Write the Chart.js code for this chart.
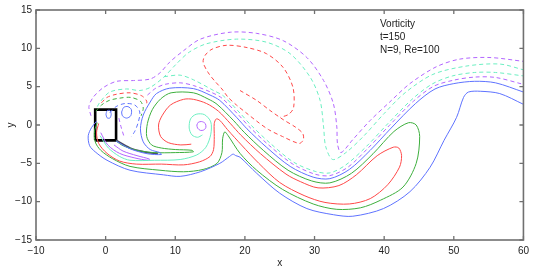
<!DOCTYPE html>
<html><head><meta charset="utf-8">
<script src="https://cdn.jsdelivr.net/npm/chart.js@4"></script>
<style>html,body{margin:0;padding:0;background:#fff}canvas{display:block}</style>
</head><body>
<canvas id="c" width="534" height="268" style="width:534px;height:268px"></canvas>
<script>
// ---- tick labels / text ----
const xTicks = [-10, 0, 10, 20, 30, 40, 50, 60];
const yTicks = [-15, -10, -5, 0, 5, 10, 15];
const notes = ["Vorticity", "t=150", "N=9, Re=100"];
const noteX = 39.4;
const noteY = [13.2, 11.45, 9.8];

// ---- contour lines, [x, y] pairs ----
// positive vorticity (solid)
const blueOuter = [[-1.3,0.5],[-2.0,-0.3],[-2.5,-1.4],[-2.3,-2.7],[-1.5,-3.5],[0.2,-4.6],[3.5,-5.9],[8.3,-6.5],[10.7,-6.7],[13.6,-6.1],[16.4,-5.0],[17.8,-4.1],[18.3,-3.8],[18.7,-4.0],[19.3,-4.2],[21.7,-6.3],[25.0,-8.9],[28.9,-10.9],[32.7,-11.7],[35.5,-11.9],[39.9,-10.9],[43.7,-8.7],[46.6,-5.5],[48.6,-2.0],[50.4,1.0],[51.4,3.6],[52.1,4.3],[53.8,4.4],[56.6,4.1],[60,2.7]];
const blueUpper = [[1.5,-2.1],[3.5,-3.1],[6,-3.75],[8.0,-3.85],[7.8,-3.6],[6.4,-3.2],[5.4,-2.2],[5.0,-0.5],[5.4,1.3],[6.4,3.0],[7.3,4.1],[9.2,4.8],[12.6,4.75],[15,3.9],[16.4,3.2],[18.8,1.0],[20.3,-0.5],[23.1,-2.9],[26.5,-5.4],[29.8,-6.8],[32.2,-7.0],[35,-5.8],[38,-3.3],[41,-0.4],[44.5,2.8],[47.3,4.7],[50,5.4],[53,5.7],[56,5.5],[60,4.3]];
const greenSolid = [[-1.2,0.3],[-1.6,-0.8],[-1.5,-2.2],[-0.7,-3.3],[1,-4.4],[3.5,-5.4],[7.8,-5.9],[11.2,-6.1],[14.0,-5.8],[16.0,-5.0],[16.7,-3.6],[16.8,-1.8],[17.1,-0.9],[17.6,-1.4],[19.3,-3.7],[21.7,-5.9],[25.4,-8.4],[29.8,-10.3],[33.2,-11.0],[36.6,-10.8],[39.5,-9.8],[42.7,-8.1],[44.6,-5.0],[45.1,-1.5],[44.6,0.0],[43.5,0.3],[41.4,-0.85],[38.4,-3.75],[35.3,-6.3],[32.2,-7.55],[29.6,-7.3],[26.2,-5.9],[22.7,-3.35],[19.9,-0.95],[18.4,0.55],[16.0,2.7],[14.7,3.4],[12.6,4.2],[9.4,4.2],[7.9,3.4],[6.7,2.0],[6.0,0.2],[5.9,-1.5],[6.6,-2.6],[8,-3.0],[10,-3.2],[12.4,-3.3],[12.6,-3.5],[10,-3.6],[7,-3.6],[4.5,-3.3],[2.5,-2.7],[1.5,-2.1]];
const redSolid = [[-1.0,0.2],[-1.3,-1.0],[-1.0,-2.4],[0.2,-3.7],[2,-4.7],[4.4,-5.1],[8,-5.1],[11.2,-5.2],[13.5,-4.8],[15.0,-4.1],[15.5,-3.2],[15.6,-1.5],[15.6,0.2],[15.9,0.8],[16.4,0.6],[17.5,-0.6],[19.5,-2.6],[22,-5.0],[25,-7.5],[28.5,-9.2],[31.5,-10.1],[35,-10.3],[38,-9.6],[40.5,-7.8],[42.2,-5.5],[42.5,-4.0],[42.1,-3.0],[41.3,-2.9],[39.0,-4.0],[36,-6.5],[33.5,-7.9],[30.5,-8.2],[28,-7.4],[25.9,-6.4],[22.25,-3.75],[19.45,-1.35],[17.95,0.15],[16.2,1.8],[14.5,2.8],[12.6,3.35],[11.2,3.35],[9.3,2.6],[8.1,1.2],[7.6,0],[7.9,-1.5],[9.0,-2.3],[10.8,-2.6],[12.3,-2.5]];
const cyanSolid = [[-0.8,-1.4],[0.4,-3.0],[2,-4.1],[3.5,-4.6],[7,-4.6],[10.7,-4.5],[13.1,-3.9],[14.4,-2.9],[15.1,-1.2],[15.1,0.4],[14.2,1.35],[13,1.4],[12.2,0.8],[12.0,-0.4],[12.4,-1.3],[13.2,-1.6],[13.9,-1.3]];
const purpleSolid = [[-0.7,-1.0],[0.3,-2.6],[2.0,-3.7],[4.2,-4.3],[6.1,-4.6],[6.3,-4.45],[4.5,-4.0],[2.5,-3.4],[1.2,-2.6]];
const purpleOval = [[13.1,0.0],[13.3,0.35],[13.8,0.45],[14.3,0.2],[14.4,-0.3],[14.1,-0.65],[13.6,-0.7],[13.2,-0.4],[13.1,0.0]];
const blueLoopA = [[2.3,1.7],[2.6,2.3],[3.2,2.4],[3.7,2.0],[3.6,1.2],[3.0,0.9],[2.4,1.2],[2.3,1.7]];
const blueLoopB = [[0.05,1.4],[0.2,1.85],[0.6,1.9],[0.8,1.4],[0.6,0.9],[0.2,0.95],[0.05,1.4]];
const tailBundle = [[1.5,-2.0],[3.5,-3.0],[5.5,-3.5],[7.5,-3.75]];
// negative vorticity (dashed)
const purpleDashOuter = [[-2.1,1.2],[-2.4,2.4],[-1.8,3.6],[-0.3,4.9],[1.6,5.7],[4.0,5.8],[6.4,6.0],[7.8,6.8],[9.2,8.2],[11.2,9.7],[13.6,11.2],[17.9,12.1],[21.7,11.95],[25.5,11.0],[28.9,8.8],[31.3,5.8],[32.7,2.8],[33.2,-0.25],[33.3,-2.5],[33.8,-3.6],[35.5,-1.9],[38,0.6],[40.8,3.0],[43.7,5.4],[47.5,7.6],[50.9,8.6],[55.2,8.8],[60,8.3]];
const purpleDashInner = [[6.0,3.9],[7.2,4.8],[8.5,5.3],[10.7,5.5],[12.6,5.15],[15.2,4.25],[16.7,3.5],[19.1,1.3],[20.6,-0.2],[23.4,-2.6],[26.8,-5.05],[30.0,-6.4],[32.2,-6.6],[34.8,-5.5],[37.7,-3.0],[40.7,-0.1],[44.2,3.1],[47.1,5.05],[50,5.85],[53,6.25],[56,6.2],[60,5.3]];
const cyanDashOuter = [[-1.2,2.4],[-0.8,3.0],[0.6,4.3],[3.0,4.7],[4.9,4.5],[6.4,4.9],[8.3,6.2],[10.2,8.0],[12,9.5],[14.5,10.6],[18.8,11.2],[23.1,10.8],[26.5,9.3],[29.4,6.2],[30.8,3.2],[31.3,-0.25],[31.6,-2.8],[32.6,-4.5],[34.5,-3.6],[37,-1.5],[40,1.5],[43,4.2],[47,6.6],[51.9,7.7],[56.6,7.95],[60,7.2]];
const cyanDashInner = [[8.4,6.3],[10.7,6.5],[12.6,5.9],[15.5,4.5],[16.9,3.8],[19.3,1.55],[20.8,0.05],[23.6,-2.35],[27.0,-4.85],[30.1,-6.05],[32.2,-6.25],[34.5,-5.2],[37.5,-2.75],[40.5,0.15],[44.0,3.35],[46.9,5.35],[49.8,6.4],[53,6.85],[56,6.85],[60,6.4]];
const redDash = [[19.3,4.5],[21.7,3.2],[23.6,1.9],[25.5,0.7],[27.3,-0.3],[28.3,-1.1],[28.4,-1.9],[27.8,-2.4],[25.4,-1.5],[23.4,-0.6],[21.7,0.5],[20.3,1.5],[18.8,2.6],[17.6,3.6],[16.7,4.7],[15.7,5.7],[14.75,6.8],[14.0,8.2],[14.3,9.1],[15.3,9.9],[17.4,10.4],[20.3,10.1],[23.1,9.3],[25.5,7.5],[26.9,4.9],[27.0,2.3],[26.3,1.4],[25.1,1.0]];
const redDashSmall = [[-0.6,2.9],[0.2,3.6],[1.5,4.0],[3.5,4.2],[5.2,3.8],[5.9,3.1],[5.8,2.5]];
const greenDashSmall = [[-1.4,1.8],[-0.6,2.6],[0.5,3.2],[2,3.5],[3.6,3.6],[5.0,3.1],[5.4,2.2],[5.1,1.2]];
const blueDashSmall = [[0.6,1.6],[1.5,2.4],[2.8,2.8],[4.2,2.6],[4.9,1.7],[4.7,0.4],[4.2,-0.8],[3.7,-1.5]];
const purpleDashSmall = [[1.9,0.9],[2.2,-0.2],[2.6,-1.4]];
// cylinder box
const cylinderBox = [[-1.5,-2],[-1.5,2],[1.5,2],[1.5,-2],[-1.5,-2]];

// ---- styles ----
const COL = {blue:'#5f73ff', green:'#3daf3d', red:'#ff4848', cyan:'#6cefc2', purple:'#b266ff', tail:'#4b4d62', black:'#000000'};
const layers = [
  {d:blueOuter, c:'blue'}, {d:blueUpper, c:'blue'}, {d:greenSolid, c:'green'},
  {d:redSolid, c:'red'}, {d:cyanSolid, c:'cyan'}, {d:purpleSolid, c:'purple'},
  {d:purpleOval, c:'purple'}, {d:blueLoopA, c:'blue'}, {d:blueLoopB, c:'blue'},
  {d:purpleDashOuter, c:'purple', dash:true}, {d:purpleDashInner, c:'purple', dash:true},
  {d:cyanDashOuter, c:'cyan', dash:true}, {d:cyanDashInner, c:'cyan', dash:true},
  {d:redDash, c:'red', dash:true}, {d:redDashSmall, c:'red', dash:true},
  {d:greenDashSmall, c:'green', dash:true}, {d:blueDashSmall, c:'blue', dash:true},
  {d:purpleDashSmall, c:'purple', dash:true},
  {d:tailBundle, c:'tail', w:1.8},
  {d:cylinderBox, c:'black', w:2.6, t:0}
];

const datasets = layers.map(L => ({
  data: L.d.map(p => ({x:p[0], y:p[1]})),
  borderColor: COL[L.c],
  borderWidth: L.w || 1,
  borderDash: L.dash ? [4,3] : [],
  pointRadius: 0,
  tension: (L.t === undefined) ? 0.3 : L.t,
  fill: false
}));

const FONT = '"Liberation Sans", Arial, Helvetica, sans-serif';
const minus = v => String(v).replace('-', '\u2212');

const frame = {
  id: 'frame',
  afterDraw(ch) {
    const {ctx, chartArea:a, scales:{x, y}} = ch;
    ctx.save();
    ctx.strokeStyle = '#707070';
    ctx.lineWidth = 1.3;
    ctx.beginPath();
    xTicks.forEach(v => { const p = x.getPixelForValue(v);
      ctx.moveTo(p, a.bottom); ctx.lineTo(p, a.bottom - 4);
      ctx.moveTo(p, a.top); ctx.lineTo(p, a.top + 4); });
    yTicks.forEach(v => { const p = y.getPixelForValue(v);
      ctx.moveTo(a.left, p); ctx.lineTo(a.left + 4, p);
      ctx.moveTo(a.right, p); ctx.lineTo(a.right - 4, p); });
    ctx.stroke();
    ctx.lineWidth = 1.6;
    ctx.strokeRect(a.left, a.top, a.right - a.left, a.bottom - a.top);
    ctx.fillStyle = '#222';
    ctx.font = '10px ' + FONT;
    ctx.textBaseline = 'middle';
    ctx.textAlign = 'left';
    notes.forEach((t, i) => ctx.fillText(t, x.getPixelForValue(noteX), y.getPixelForValue(noteY[i])));
    ctx.textAlign = 'center';
    ctx.fillText('x', x.getPixelForValue(25), 263);
    ctx.translate(11, y.getPixelForValue(0));
    ctx.rotate(-Math.PI / 2);
    ctx.fillText('y', 0, 0);
    ctx.restore();
  }
};

new Chart(document.getElementById('c'), {
  type: 'line',
  data: { datasets },
  options: {
    responsive: false, animation: false, devicePixelRatio: 1,
    layout: { padding: { top: 9, right: 10.5, left: 0, bottom: 0 } },
    plugins: { legend: {display:false}, tooltip: {enabled:false} },
    elements: { line: { capBezierPoints: true } },
    scales: {
      x: { type:'linear', min:-10, max:60,
        afterBuildTicks: s => { s.ticks = xTicks.map(v => ({value:v})); },
        afterFit: s => { s.height = 28; },
        grid: { display:false, drawTicks:false }, border: { display:false },
        ticks: { padding:5, color:'#222', font:{size:10, family:FONT}, maxRotation:0, callback: minus } },
      y: { type:'linear', min:-15, max:15,
        afterBuildTicks: s => { s.ticks = yTicks.map(v => ({value:v})); },
        afterFit: s => { s.width = 36; },
        grid: { display:false, drawTicks:false }, border: { display:false },
        ticks: { padding:4, color:'#222', font:{size:10, family:FONT}, callback: minus } }
    }
  },
  plugins: [frame]
});
</script>
</body></html>
